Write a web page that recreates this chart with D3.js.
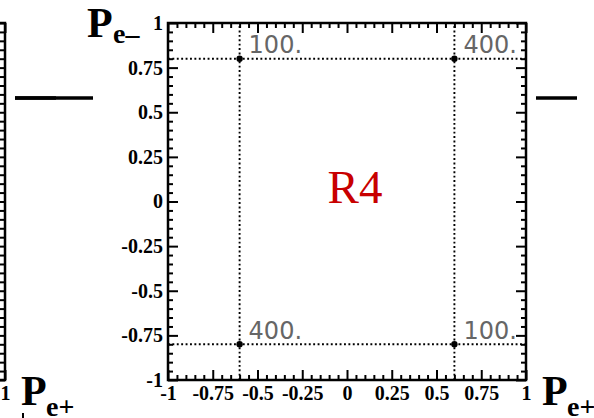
<!DOCTYPE html>
<html>
<head>
<meta charset="utf-8">
<script src="https://cdn.jsdelivr.net/npm/d3@7"></script>
<style>
  body { margin: 0; background: #fff; }
  svg { display: block; }
</style>
</head>
<body>
<svg id="chart" width="594" height="418"></svg>
<script>
// polarisation corners (P_e+, P_e-) and luminosity shares
const pointX = [-0.6, 0.6, -0.6, 0.6];
const pointY = [0.8, 0.8, -0.8, -0.8];
const lumi = ['100.', '400.', '400.', '100.'];
const majorTicks = [-1, -0.75, -0.5, -0.25, 0, 0.25, 0.5, 0.75, 1];
const tickLabels = ['-1', '-0.75', '-0.5', '-0.25', '0', '0.25', '0.5', '0.75', '1'];
const regionName = 'R4';

const frameL = 168, frameR = 526, frameT = 23, frameB = 380;
const panelStep = 521; // distance between neighbouring panels
const serif = '"Liberation Serif", "Times New Roman", serif';

const svg = d3.select('#chart');

const minorTicks = d3.range(-20, 21).map((i) => i / 20)
  .filter((v) => Math.abs(v * 4 - Math.round(v * 4)) > 1e-6);

const fmt = (d) => tickLabels[majorTicks.indexOf(d)];

const drawPanel = (dx, full) => {
  const x = d3.scaleLinear().domain([-1, 1]).range([frameL + dx, frameR + dx]);
  const y = d3.scaleLinear().domain([-1, 1]).range([frameB, frameT]);
  const g = svg.append('g');

  // ticks, all pointing inward
  const axes = [
    [d3.axisBottom(x), `translate(0,${frameB})`, 6],
    [d3.axisTop(x), `translate(0,${frameT})`, 0],
    [d3.axisLeft(y), `translate(${frameL + dx},0)`, full ? 5 : 0],
    [d3.axisRight(y), `translate(${frameR + dx},0)`, 0],
  ];
  axes.forEach(([ax, tr, pad]) => {
    const major = g.append('g').attr('transform', tr)
      .call(ax.tickValues(majorTicks).tickSize(-10).tickPadding(pad)
        .tickFormat(pad ? fmt : () => ''));
    major.select('.domain').remove();
    major.selectAll('line').attr('stroke', '#000').attr('stroke-width', 2);
    major.selectAll('text')
      .attr('font-family', serif)
      .attr('font-weight', 'bold')
      .attr('font-size', 20)
      .attr('fill', '#000');
    const minor = g.append('g').attr('transform', tr)
      .call(ax.tickValues(minorTicks).tickSize(-5).tickFormat(() => ''));
    minor.select('.domain').remove();
    minor.selectAll('line').attr('stroke', '#000').attr('stroke-width', 2);
  });
  // drop empty labels and those that fall outside the picture
  g.selectAll('.tick text').filter(function (d) {
    const t = this.textContent;
    if (!t) return true;
    const gx = x(d);
    return !full && gx < -5;
  }).remove();

  // frame
  g.append('rect')
    .attr('x', frameL + dx).attr('y', frameT)
    .attr('width', frameR - frameL).attr('height', frameB - frameT)
    .attr('fill', 'none').attr('stroke', '#000').attr('stroke-width', 2.5);

  // separator dash to the right of the panel
  g.append('line')
    .attr('x1', frameR + dx + 10).attr('x2', frameR + dx + 51)
    .attr('y1', 98).attr('y2', 98)
    .attr('stroke', '#000').attr('stroke-width', 3.5);

  // axis titles
  if (full) {
    const pe = g.append('text').attr('font-family', serif).attr('font-weight', 'bold');
    pe.append('tspan').attr('x', frameL + dx - 81).attr('y', 37).attr('font-size', 42).text('P');
    pe.append('tspan').attr('x', frameL + dx - 55).attr('y', 43).attr('font-size', 28).text('e\u2013');
  }
  const pp = g.append('text').attr('font-family', serif).attr('font-weight', 'bold');
  pp.append('tspan').attr('x', frameR + dx + 16).attr('y', 405).attr('font-size', 42).text('P');
  pp.append('tspan').attr('x', frameR + dx + 41).attr('y', 416).attr('font-size', 28).text('e+');

  return { x, y, g };
};

// neighbouring panel on the left (only its edge shows) and the main one
drawPanel(-panelStep, false);
svg.append('line')
  .attr('x1', 15).attr('x2', 93).attr('y1', 98).attr('y2', 98)
  .attr('stroke', '#000').attr('stroke-width', 3.5);
const { x, y, g } = drawPanel(0, true);
svg.append('line').attr('x1', 23).attr('x2', 23).attr('y1', 413).attr('y2', 418)
  .attr('stroke', '#000').attr('stroke-width', 2);

// dotted polarisation rectangle
const pts = pointX.map((px, i) => ({ px, py: pointY[i], lab: lumi[i] }));
const dline = (x1, y1, x2, y2) => g.append('line')
  .attr('x1', x1).attr('y1', y1).attr('x2', x2).attr('y2', y2)
  .attr('stroke', '#000').attr('stroke-width', 1.9)
  .attr('stroke-dasharray', '1.9,2.5');
d3.extent(pointY).forEach((v) => dline(x(-1), y(v), x(1), y(v)));
d3.extent(pointX).forEach((v) => dline(x(v), y(-1), x(v), y(1)));

g.selectAll('.pt').data(pts).enter().append('circle')
  .attr('cx', (d) => x(d.px)).attr('cy', (d) => y(d.py)).attr('r', 3.2).attr('fill', '#000');

g.selectAll('.lumi').data(pts).enter().append('text')
  .attr('x', (d) => x(d.px) + 9).attr('y', (d) => y(d.py) - 5.5)
  .attr('font-family', '"DejaVu Sans", sans-serif')
  .attr('font-size', 24)
  .attr('fill', '#666')
  .text((d) => d.lab);

g.append('text')
  .attr('x', 355).attr('y', 203)
  .attr('text-anchor', 'middle')
  .attr('font-family', serif)
  .attr('font-size', 47)
  .attr('fill', '#c80000')
  .text(regionName);
</script>
</body>
</html>
